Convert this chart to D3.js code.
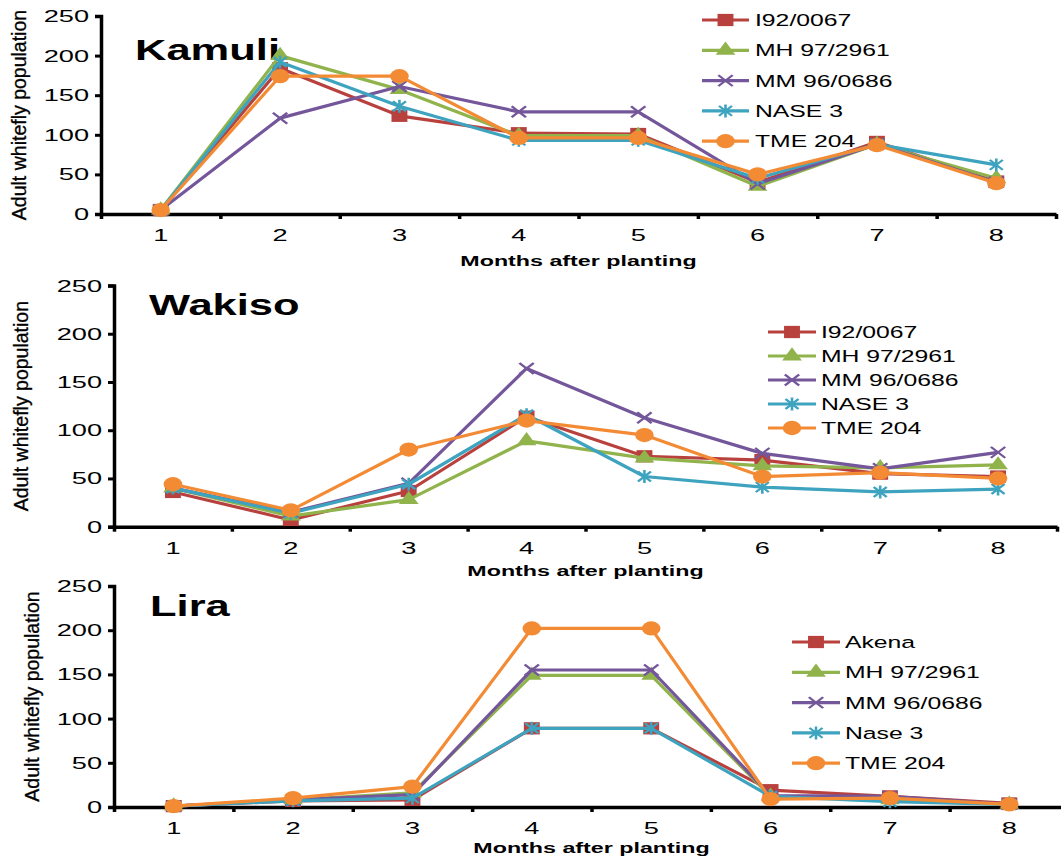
<!DOCTYPE html>
<html>
<head>
<meta charset="utf-8">
<script src="https://cdn.jsdelivr.net/npm/d3@7"></script>
<style>
  body { margin: 0; background: #fff; }
  svg { display: block; font-family: "Liberation Sans", Arial, sans-serif; }
</style>
</head>
<body>
<svg id="chart" width="1061" height="859"></svg>
<script>
// data (months 1..8)
const months = [1, 2, 3, 4, 5, 6, 7, 8];
const yTicks = [0, 50, 100, 150, 200, 250];

const kamuliNames = ['I92/0067', 'MH 97/2961', 'MM 96/0686', 'NASE 3', 'TME 204'];
const kamuliI92  = [5, 184, 124, 102, 101, 40, 91, 41];
const kamuliMH   = [5, 200, 157, 99, 99, 35, 88, 45];
const kamuliMM   = [5, 121, 161, 129, 129, 38, 88, 40];
const kamuliNASE = [5, 192, 136, 93, 93, 45, 88, 62];
const kamuliTME  = [5, 174, 174, 96, 96, 50, 87, 39];

const wakisoNames = ['I92/0067', 'MH 97/2961', 'MM 96/0686', 'NASE 3', 'TME 204'];
const wakisoI92  = [36, 7, 37, 114, 73, 69, 55, 52];
const wakisoMH   = [40, 11, 28, 89, 71, 63, 61, 64];
const wakisoMM   = [40, 15, 45, 164, 113, 76, 60, 77];
const wakisoNASE = [40, 14, 44, 116, 52, 41, 36, 39];
const wakisoTME  = [44, 17, 80, 110, 95, 52, 56, 50];

const liraNames = ['Akena', 'MH 97/2961', 'MM 96/0686', 'Nase 3', 'TME 204'];
const liraAkena = [1, 7, 8, 89, 89, 19, 12, 4];
const liraMH    = [1, 8, 16, 149, 149, 12, 8, 3];
const liraMM    = [1, 8, 14, 155, 155, 13, 12, 3];
const liraNase  = [1, 7, 10, 89, 89, 12, 6, 3];
const liraTME   = [1, 10, 23, 202, 202, 9, 10, 3];

const colors = ['#B8413E', '#90B34C', '#74569A', '#3DA3BF', '#F38B35'];
const shapes = ['square', 'triangle', 'x', 'star', 'circle'];

const SX = 1.5; // the source picture is stretched sideways

const panels = [
  { title: 'Kamuli', names: kamuliNames, series: [kamuliI92, kamuliMH, kamuliMM, kamuliNASE, kamuliTME],
    x0: 101, x1: 1056, yTop: 16, yBot: 214, titleX: 135, titleY: 60, yTitleX: 26, xTitleDy: 52,
    leg: { lx1: 702, lx2: 749, tx: 755, y: 20, dy: 30.3 } },
  { title: 'Wakiso', names: wakisoNames, series: [wakisoI92, wakisoMH, wakisoMM, wakisoNASE, wakisoTME],
    x0: 114, x1: 1057, yTop: 285.5, yBot: 526.7, titleX: 149, titleY: 315, yTitleX: 28, xTitleDy: 49,
    leg: { lx1: 768, lx2: 816, tx: 821, y: 332, dy: 24 } },
  { title: 'Lira', names: liraNames, series: [liraAkena, liraMH, liraMM, liraNase, liraTME],
    x0: 114, x1: 1069, yTop: 586, yBot: 807, titleX: 150, titleY: 616, yTitleX: 39, xTitleDy: 46,
    leg: { lx1: 792, lx2: 840, tx: 845, y: 642, dy: 30.3 } }
];

const svg = d3.select('#chart');

function stext(parent, x, y, str, size, weight, anchor, sx) {
  const g = parent.append('g').attr('transform', 'translate(' + x + ',' + y + ') scale(' + sx + ',1)');
  return g.append('text')
    .attr('text-anchor', anchor)
    .style('font-size', size + 'px')
    .style('font-weight', weight)
    .attr('fill', '#000')
    .text(str);
}

function marker(parent, shape, color, x, y) {
  const g = parent.append('g').attr('transform', 'translate(' + x + ',' + y + ') scale(1.3,1)');
  if (shape === 'square') {
    g.append('path').attr('d', d3.symbol(d3.symbolSquare, 150)()).attr('fill', color);
  } else if (shape === 'triangle') {
    g.append('path').attr('d', d3.symbol(d3.symbolTriangle, 100)()).attr('fill', color);
  } else if (shape === 'circle') {
    g.append('path').attr('d', d3.symbol(d3.symbolCircle, 160)()).attr('fill', color);
  } else if (shape === 'x') {
    g.append('path').attr('d', 'M-5.5,-5.5L5.5,5.5M-5.5,5.5L5.5,-5.5')
      .attr('stroke', color).attr('stroke-width', 2).attr('fill', 'none');
  } else {
    g.append('path').attr('d', 'M-5,-5L5,5M-5,5L5,-5M0,-6.5L0,6.5')
      .attr('stroke', color).attr('stroke-width', 2).attr('fill', 'none');
  }
}

panels.forEach(function(p) {
  const g = svg.append('g');
  const x = d3.scaleLinear().domain([0.5, 8.5]).range([p.x0, p.x1]);
  const y = d3.scaleLinear().domain([0, 250]).range([p.yBot, p.yTop]);

  // y axis
  const ya = g.append('g').attr('transform', 'translate(' + p.x0 + ',0)')
    .call(d3.axisLeft(y).tickValues(yTicks).tickSize(6).tickFormat(''));
  ya.select('.domain').attr('stroke', '#000').attr('stroke-width', 3.5);
  ya.selectAll('.tick line').attr('stroke', '#000').attr('stroke-width', 3);
  yTicks.forEach(function(t) {
    stext(g, p.x0 - 12, y(t) + 6, t, 17, 'normal', 'end', 1.6);
  });

  // x axis: ticks at category borders, labels at centres
  const xa = g.append('g').attr('transform', 'translate(0,' + p.yBot + ')')
    .call(d3.axisBottom(x).tickValues(d3.range(0.5, 9, 1)).tickSize(5).tickSizeOuter(0).tickFormat(''));
  xa.select('.domain').attr('stroke', '#000').attr('stroke-width', 3.5);
  xa.selectAll('.tick line').attr('stroke', '#000').attr('stroke-width', 3.5);
  months.forEach(function(m) {
    stext(g, x(m), p.yBot + 27, m, 17, 'normal', 'middle', 1.6);
  });

  stext(g, (p.x0 + p.x1) / 2, p.yBot + p.xTitleDy, 'Months after planting', 15.5, 'bold', 'middle', SX);

  g.append('text')
    .attr('transform', 'translate(' + p.yTitleX + ',' + (p.yTop + p.yBot) / 2 + ') rotate(-90)')
    .attr('text-anchor', 'middle')
    .style('font-size', '19.5px')
    .attr('stroke', '#000').attr('stroke-width', 0.3)
    .text('Adult whitefly population');

  stext(g, p.titleX, p.titleY, p.title, 29, 'bold', 'start', SX);

  // series
  const line = d3.line().x((d, i) => x(months[i])).y(d => y(d));
  p.series.forEach(function(s, k) {
    g.append('path').datum(s)
      .attr('d', line)
      .attr('fill', 'none')
      .attr('stroke', colors[k])
      .attr('stroke-width', 3.2)
      .attr('stroke-linejoin', 'round');
    s.forEach(function(v, i) {
      marker(g, shapes[k], colors[k], x(months[i]), y(v));
    });
  });

  // legend
  p.names.forEach(function(n, k) {
    const ly = p.leg.y + k * p.leg.dy;
    g.append('line')
      .attr('x1', p.leg.lx1).attr('x2', p.leg.lx2)
      .attr('y1', ly).attr('y2', ly)
      .attr('stroke', colors[k]).attr('stroke-width', 3.2);
    marker(g, shapes[k], colors[k], (p.leg.lx1 + p.leg.lx2) / 2, ly);
    stext(g, p.leg.tx, ly + 6, n, 16.5, 'normal', 'start', SX);
  });
});
</script>
</body>
</html>
